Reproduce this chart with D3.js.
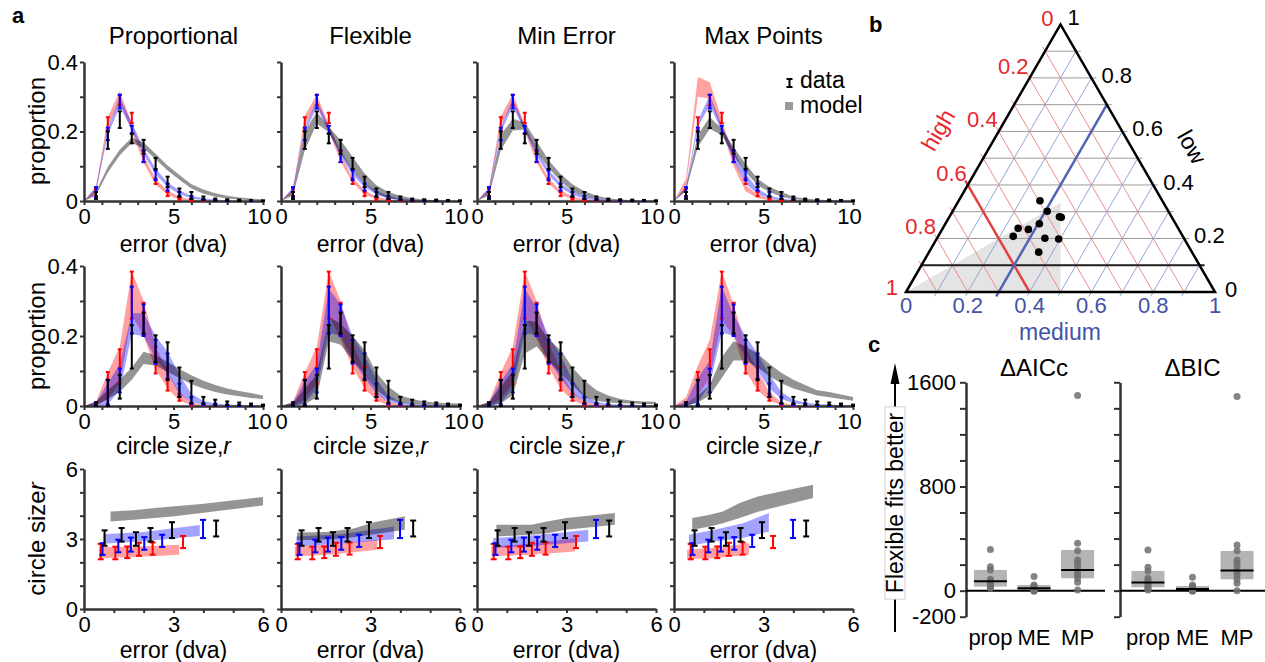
<!DOCTYPE html>
<html>
<head>
<meta charset="utf-8">
<script src="https://cdn.jsdelivr.net/npm/d3@7"></script>
<style>
body { margin: 0; background: #fff; }
svg { display: block; }
svg text { font-family: "Liberation Sans", Arial, Helvetica, sans-serif; }
</style>
</head>
<body>
<script>
// ---------- panel a data ----------
var modelNames = ["Proportional", "Flexible", "Min Error", "Max Points"];
var binCenters = [0.67, 1.33, 2, 2.67, 3.33, 4, 4.67, 5.33, 6, 6.67, 7.33, 8, 8.67, 9.33, 10];
var modelGrid = [0, 0.67, 1.33, 2, 2.67, 3.33, 4, 4.67, 5.33, 6, 6.67, 7.33, 8, 8.67, 9.33, 10];

// row 1: error histograms (data mean, sem)
var errRed = [0.025, 0.222, 0.29, 0.239, 0.128, 0.057, 0.020, 0.006, 0.002, 0.001, 0.0005, 0, 0, 0, 0];
var errRedSe = [0.01, 0.019, 0.015, 0.015, 0.016, 0.008, 0.006, 0.003, 0.002, 0.001, 0.001, 0, 0, 0, 0];
var errBlue = [0.026, 0.193, 0.286, 0.205, 0.129, 0.074, 0.040, 0.020, 0.010, 0.004, 0.002, 0.001, 0.0005, 0, 0];
var errBlueSe = [0.014, 0.018, 0.02, 0.011, 0.017, 0.014, 0.010, 0.006, 0.004, 0.002, 0.001, 0.001, 0.001, 0, 0];
var errBlack = [0.016, 0.175, 0.234, 0.18, 0.156, 0.108, 0.055, 0.024, 0.016, 0.008, 0.004, 0.003, 0.002, 0.002, 0.001];
var errBlackSe = [0.01, 0.025, 0.024, 0.014, 0.02, 0.016, 0.015, 0.012, 0.01, 0.005, 0.003, 0.002, 0.002, 0.001, 0.001];

// row 1 model bands, one list per model column
var errModelRedLo = [
  [0, 0.022, 0.214, 0.288, 0.2, 0.11, 0.047, 0.018, 0.004, 0, 0, 0, 0, 0, 0, 0],
  [0, 0.024, 0.218, 0.28, 0.2, 0.113, 0.053, 0.019, 0.005, 0.001, 0, 0, 0, 0, 0, 0],
  [0, 0.024, 0.216, 0.282, 0.2, 0.111, 0.051, 0.018, 0.005, 0.001, 0, 0, 0, 0, 0, 0],
  [0, 0.04, 0.3, 0.295, 0.205, 0.1, 0.028, 0.008, 0.002, 0, 0, 0, 0, 0, 0, 0]];
var errModelRedHi = [
  [0, 0.038, 0.242, 0.316, 0.222, 0.13, 0.063, 0.03, 0.012, 0.004, 0.002, 0.001, 0, 0, 0, 0],
  [0, 0.036, 0.246, 0.306, 0.22, 0.131, 0.067, 0.031, 0.013, 0.005, 0.002, 0.001, 0, 0, 0, 0],
  [0, 0.036, 0.244, 0.308, 0.22, 0.129, 0.065, 0.03, 0.013, 0.005, 0.002, 0.001, 0, 0, 0, 0],
  [0, 0.064, 0.357, 0.342, 0.235, 0.125, 0.045, 0.018, 0.007, 0.002, 0.001, 0, 0, 0, 0, 0]];
var errModelBlueLo = [
  [0, 0.028, 0.19, 0.272, 0.205, 0.133, 0.077, 0.04, 0.02, 0.007, 0.002, 0.001, 0, 0, 0, 0],
  [0, 0.027, 0.197, 0.27, 0.199, 0.129, 0.075, 0.04, 0.019, 0.007, 0.003, 0.001, 0, 0, 0, 0],
  [0, 0.027, 0.197, 0.273, 0.202, 0.13, 0.075, 0.039, 0.018, 0.006, 0.003, 0.001, 0, 0, 0, 0],
  [0, 0.028, 0.213, 0.275, 0.2, 0.117, 0.05, 0.02, 0.007, 0.002, 0.001, 0, 0, 0, 0, 0]];
var errModelBlueHi = [
  [0, 0.042, 0.21, 0.298, 0.226, 0.152, 0.093, 0.054, 0.03, 0.015, 0.008, 0.004, 0.002, 0.001, 0, 0],
  [0, 0.039, 0.213, 0.29, 0.215, 0.145, 0.089, 0.052, 0.029, 0.015, 0.007, 0.003, 0.002, 0.001, 0, 0],
  [0, 0.039, 0.213, 0.293, 0.218, 0.146, 0.089, 0.051, 0.028, 0.014, 0.007, 0.003, 0.002, 0.001, 0, 0],
  [0, 0.042, 0.232, 0.304, 0.218, 0.146, 0.079, 0.035, 0.016, 0.007, 0.003, 0.001, 0, 0, 0, 0]];
var errModelGrayLo = [
  [0, 0.016, 0.082, 0.132, 0.167, 0.152, 0.12, 0.088, 0.061, 0.036, 0.021, 0.012, 0.007, 0.004, 0.002, 0.001],
  [0, 0.016, 0.146, 0.223, 0.198, 0.136, 0.088, 0.05, 0.021, 0.007, 0.003, 0.001, 0, 0, 0, 0],
  [0, 0.016, 0.146, 0.203, 0.206, 0.14, 0.095, 0.057, 0.028, 0.013, 0.006, 0.003, 0.001, 0, 0, 0],
  [0, 0.03, 0.155, 0.208, 0.189, 0.131, 0.083, 0.045, 0.026, 0.012, 0.005, 0.002, 0.001, 0, 0, 0]];
var errModelGrayHi = [
  [0, 0.028, 0.098, 0.148, 0.183, 0.168, 0.136, 0.102, 0.075, 0.048, 0.033, 0.022, 0.015, 0.01, 0.007, 0.004],
  [0, 0.028, 0.2, 0.256, 0.214, 0.175, 0.127, 0.079, 0.045, 0.026, 0.015, 0.008, 0.004, 0.002, 0.001, 0.001],
  [0, 0.028, 0.19, 0.237, 0.226, 0.172, 0.117, 0.078, 0.048, 0.028, 0.015, 0.008, 0.004, 0.002, 0.001, 0.001],
  [0, 0.04, 0.19, 0.242, 0.208, 0.155, 0.107, 0.064, 0.04, 0.026, 0.012, 0.007, 0.004, 0.002, 0.001, 0]];

// row 2: circle size histograms
var sizeRed = [0.004, 0.05, 0.113, 0.317, 0.25, 0.131, 0.078, 0.025, 0.004, 0.001, 0.001, 0, 0, 0, 0];
var sizeRedSe = [0.004, 0.047, 0.049, 0.067, 0.045, 0.038, 0.034, 0.01, 0.003, 0.001, 0.001, 0, 0, 0, 0];
var sizeBlue = [0.004, 0.04, 0.073, 0.274, 0.245, 0.155, 0.114, 0.045, 0.015, 0.005, 0.004, 0.002, 0.001, 0.001, 0];
var sizeBlueSe = [0.004, 0.035, 0.034, 0.067, 0.045, 0.034, 0.036, 0.019, 0.01, 0.003, 0.003, 0.002, 0.001, 0.001, 0];
var sizeBlack = [0.006, 0.037, 0.055, 0.169, 0.237, 0.164, 0.128, 0.068, 0.04, 0.016, 0.01, 0.008, 0.006, 0.004, 0.002];
var sizeBlackSe = [0.005, 0.037, 0.034, 0.062, 0.03, 0.038, 0.054, 0.042, 0.032, 0.01, 0.008, 0.005, 0.004, 0.003, 0.002];

var sizeModelRedLo = [
  [0, 0, 0.02, 0.065, 0.26, 0.2, 0.105, 0.05, 0.015, 0.003, 0.001, 0, 0, 0, 0, 0],
  [0, 0, 0.02, 0.065, 0.26, 0.19, 0.11, 0.05, 0.015, 0.003, 0.001, 0, 0, 0, 0, 0],
  [0, 0, 0.02, 0.065, 0.26, 0.19, 0.11, 0.05, 0.015, 0.003, 0.001, 0, 0, 0, 0, 0],
  [0, 0, 0.03, 0.08, 0.245, 0.2, 0.1, 0.045, 0.015, 0.003, 0.001, 0, 0, 0, 0, 0]];
var sizeModelRedHi = [
  [0, 0.012, 0.095, 0.17, 0.385, 0.3, 0.17, 0.1, 0.04, 0.01, 0.003, 0.001, 0, 0, 0, 0],
  [0, 0.012, 0.095, 0.17, 0.385, 0.3, 0.18, 0.1, 0.04, 0.012, 0.004, 0.001, 0, 0, 0, 0],
  [0, 0.012, 0.095, 0.17, 0.385, 0.3, 0.18, 0.1, 0.04, 0.012, 0.004, 0.001, 0, 0, 0, 0],
  [0, 0.025, 0.115, 0.19, 0.385, 0.29, 0.17, 0.1, 0.04, 0.01, 0.003, 0.001, 0, 0, 0, 0]];
var sizeModelBlueLo = [
  [0, 0, 0.005, 0.045, 0.205, 0.2, 0.135, 0.093, 0.035, 0.011, 0.004, 0.002, 0.001, 0, 0, 0],
  [0, 0, 0.008, 0.05, 0.21, 0.2, 0.13, 0.08, 0.035, 0.012, 0.005, 0.002, 0.001, 0, 0, 0],
  [0, 0, 0.008, 0.05, 0.21, 0.2, 0.13, 0.08, 0.035, 0.012, 0.005, 0.002, 0.001, 0, 0, 0],
  [0, 0, 0.01, 0.06, 0.21, 0.2, 0.14, 0.1, 0.05, 0.02, 0.008, 0.004, 0.002, 0.001, 0, 0]];
var sizeModelBlueHi = [
  [0, 0.01, 0.065, 0.12, 0.265, 0.265, 0.2, 0.155, 0.09, 0.035, 0.014, 0.007, 0.004, 0.003, 0.002, 0.002],
  [0, 0.01, 0.07, 0.12, 0.335, 0.29, 0.2, 0.145, 0.075, 0.03, 0.012, 0.006, 0.004, 0.003, 0.002, 0.002],
  [0, 0.01, 0.07, 0.12, 0.335, 0.28, 0.2, 0.145, 0.075, 0.03, 0.012, 0.006, 0.004, 0.003, 0.002, 0.002],
  [0, 0.012, 0.08, 0.13, 0.34, 0.26, 0.2, 0.15, 0.09, 0.04, 0.018, 0.01, 0.006, 0.004, 0.003, 0.002]];
var sizeModelGrayLo = [
  [0, 0.003, 0.02, 0.04, 0.075, 0.12, 0.116, 0.097, 0.08, 0.062, 0.05, 0.04, 0.033, 0.028, 0.023, 0.02],
  [0, 0, 0.005, 0.025, 0.185, 0.175, 0.13, 0.093, 0.045, 0.02, 0.01, 0.006, 0.004, 0.003, 0.002, 0.002],
  [0, 0, 0.008, 0.03, 0.15, 0.17, 0.13, 0.093, 0.06, 0.026, 0.015, 0.01, 0.008, 0.007, 0.006, 0.005],
  [0, 0, 0.01, 0.03, 0.08, 0.13, 0.13, 0.11, 0.085, 0.065, 0.05, 0.04, 0.03, 0.025, 0.02, 0.015]];
var sizeModelGrayHi = [
  [0, 0.012, 0.045, 0.075, 0.11, 0.155, 0.145, 0.126, 0.106, 0.088, 0.072, 0.06, 0.05, 0.043, 0.037, 0.03],
  [0, 0.008, 0.05, 0.09, 0.255, 0.235, 0.2, 0.16, 0.095, 0.055, 0.03, 0.02, 0.013, 0.01, 0.008, 0.007],
  [0, 0.01, 0.055, 0.1, 0.245, 0.24, 0.19, 0.16, 0.11, 0.073, 0.045, 0.03, 0.02, 0.015, 0.013, 0.012],
  [0, 0.005, 0.03, 0.06, 0.14, 0.185, 0.17, 0.15, 0.12, 0.095, 0.075, 0.06, 0.045, 0.04, 0.033, 0.026]];

// row 3: circle size vs error
var csRedX = [0.56, 1.05, 1.45, 1.84, 2.3, 3.32];
var csRedY = [2.46, 2.4, 2.43, 2.56, 2.59, 2.87];
var csRedSe = [0.33, 0.27, 0.25, 0.28, 0.26, 0.26];
var csBlueX = [0.62, 1.15, 1.57, 2.02, 2.62, 3.99];
var csBlueY = [2.57, 2.7, 2.76, 2.81, 2.92, 3.43];
var csBlueSe = [0.25, 0.27, 0.3, 0.27, 0.26, 0.39];
var csBlackX = [0.69, 1.26, 1.74, 2.23, 2.95, 4.43];
var csBlackY = [3.04, 3.18, 3.0, 3.18, 3.38, 3.45];
var csBlackSe = [0.33, 0.29, 0.29, 0.29, 0.34, 0.34];

var csModelRedX = [[0.51, 1.8, 3.19], [0.46, 1.8, 3.23], [0.48, 1.8, 3.28], [0.44, 1.5, 2.51]];
var csModelRedLo = [[2.18, 2.23, 2.32], [2.25, 2.35, 2.54], [2.25, 2.33, 2.46], [2.13, 2.2, 2.32]];
var csModelRedHi = [[2.65, 2.68, 2.75], [2.68, 2.78, 2.97], [2.68, 2.8, 3.04], [2.54, 2.65, 2.82]];
var csModelBlueX = [[0.65, 2.0, 3.88], [0.52, 2.0, 3.79], [0.54, 2.0, 3.73], [0.5, 1.36, 2.31, 3.18]];
var csModelBlueLo = [[2.8, 2.9, 3.13], [2.68, 2.8, 2.99], [2.61, 2.72, 2.89], [2.71, 2.89, 3.04, 3.32]];
var csModelBlueHi = [[3.2, 3.3, 3.6], [3.11, 3.2, 3.54], [3.04, 3.17, 3.4], [3.18, 3.4, 3.68, 4.11]];
var csModelGrayX = [[0.89, 1.67, 2.37, 3.04, 3.94, 6.0], [0.54, 1.55, 2.44, 3.12, 4.15],
                    [0.65, 1.83, 2.35, 3.0, 4.62], [0.61, 1.2, 1.64, 2.2, 2.84, 4.66]];
var csModelGrayLo = [[3.75, 3.83, 3.9, 3.97, 4.11, 4.44], [2.95, 2.98, 3.08, 3.2, 3.4],
                     [3.11, 3.18, 3.25, 3.4, 3.61], [3.4, 3.54, 3.68, 3.9, 4.18, 4.76]];
var csModelGrayHi = [[4.18, 4.23, 4.33, 4.4, 4.5, 4.8], [3.28, 3.3, 3.45, 3.72, 3.97],
                     [3.61, 3.61, 3.75, 3.9, 4.11], [3.9, 4.04, 4.18, 4.54, 4.83, 5.33]];

// ---------- panel b data (high, medium, low) ----------
var subjHigh = [0.396, 0.392, 0.363, 0.358, 0.441, 0.518, 0.487, 0.549, 0.450, 0.407, 0.496];
var subjMed  = [0.263, 0.306, 0.356, 0.363, 0.304, 0.244, 0.279, 0.243, 0.349, 0.395, 0.355];
var subjLow  = [0.341, 0.302, 0.281, 0.279, 0.255, 0.238, 0.234, 0.208, 0.201, 0.198, 0.149];
var shadeHigh = [1, 0.5, 0.3333];
var shadeMed  = [0, 0.5, 0.3333];
var shadeLow  = [0, 0, 0.3334];
var ternGrid = [0.1, 0.2, 0.3, 0.4, 0.5, 0.6, 0.7, 0.8, 0.9];
var ternLabels = [0, 0.2, 0.4, 0.6, 0.8, 1];

// ---------- panel c data ----------
var cCats = ["prop", "ME", "MP"];
var aicPoints = [[317, 184, 159, 87, 77, 61, 51, 44, 31, 26, 18],
                 [108, 44, 31, 26, 18, 13, 10, 5, 3, 0, -5],
                 [1498, 364, 307, 236, 210, 179, 146, 120, 95, 64, 5]];
var aicBoxLo = [31, 0, 95], aicBoxHi = [159, 44, 312], aicMid = [72, 18, 159];
var bicPoints = [[312, 179, 151, 95, 82, 64, 51, 36, 26, 13, 5],
                 [102, 44, 31, 22, 15, 12, 8, 5, 3, 0, -5],
                 [1490, 351, 307, 236, 210, 179, 146, 120, 87, 56, 0]];
var bicBoxLo = [26, 0, 87], bicBoxHi = [151, 36, 305], bicMid = [62, 13, 154];

// ---------- drawing ----------
var svg = d3.select("body").append("svg").attr("width", 1265).attr("height", 662);
var FS = 22, LS = 24, XS = 23;   // tick labels, titles, x labels
var colLeft = [84, 281, 477, 674], colW = 179;
var rowTop = [62, 266, 469], rowBottom = [201, 406, 609];
var bandFill = ["#ff0000", "#0000ff", "#000000"], bandOpacity = [0.37, 0.36, 0.42];
var barColor = ["#ff0000", "#0000ff", "#000000"];

function styleAxis(g) {
  g.attr("font-size", FS).attr("font-family", null);
  g.select(".domain").attr("stroke", "#333").attr("stroke-width", 2.5);
  g.selectAll(".tick line").attr("stroke", "#333").attr("stroke-width", 2);
  g.selectAll(".tick text").attr("fill", "#000");
}

function errorBars(g, x, y, xs, m, se, color, cap) {
  var gg = g.append("g").attr("stroke", color).attr("stroke-width", 2);
  xs.forEach(function (xv, i) {
    var y1 = y(m[i] - se[i]), y2 = y(m[i] + se[i]), px = x(xv);
    gg.append("line").attr("x1", px).attr("x2", px).attr("y1", y1).attr("y2", y2);
    gg.append("line").attr("x1", px - cap).attr("x2", px + cap).attr("y1", y1).attr("y2", y1);
    gg.append("line").attr("x1", px - cap).attr("x2", px + cap).attr("y1", y2).attr("y2", y2);
  });
}

function band(g, x, y, xs, lo, hi, k) {
  var area = d3.area()
    .x(function (d, i) { return x(xs[i]); })
    .y0(function (d, i) { return y(lo[i]); })
    .y1(function (d, i) { return y(hi[i]); });
  g.append("path").datum(xs).attr("d", area)
    .attr("fill", bandFill[k]).attr("fill-opacity", bandOpacity[k]);
}

var histRows = [
  { lo: [errModelRedLo, errModelBlueLo, errModelGrayLo], hi: [errModelRedHi, errModelBlueHi, errModelGrayHi],
    m: [errRed, errBlue, errBlack], se: [errRedSe, errBlueSe, errBlackSe] },
  { lo: [sizeModelRedLo, sizeModelBlueLo, sizeModelGrayLo], hi: [sizeModelRedHi, sizeModelBlueHi, sizeModelGrayHi],
    m: [sizeRed, sizeBlue, sizeBlack], se: [sizeRedSe, sizeBlueSe, sizeBlackSe] }
];

colLeft.forEach(function (x0, c) {
  svg.append("text").attr("x", x0 + colW / 2).attr("y", 44).attr("text-anchor", "middle")
    .attr("font-size", LS).text(modelNames[c]);

  // histogram rows
  [0, 1].forEach(function (r) {
    var x = d3.scaleLinear().domain([0, 10]).range([x0, x0 + colW]);
    var y = d3.scaleLinear().domain([0, 0.4]).range([rowBottom[r], rowTop[r]]).clamp(true);
    var g = svg.append("g");
    var hr = histRows[r];
    for (var k = 0; k < 3; k++) band(g, x, y, modelGrid, hr.lo[k][c], hr.hi[k][c], k);

    var ax = g.append("g").attr("transform", "translate(0," + rowBottom[r] + ")")
      .call(d3.axisBottom(x).tickValues([0, 1, 2, 3, 4, 5, 6, 7, 8, 9, 10]).tickSize(4).tickSizeOuter(0).tickPadding(3)
        .tickFormat(function (d) { return (d % 5 === 0) ? String(d) : ""; }))
      .call(styleAxis);
    ax.selectAll(".tick text").filter(function (d) { return d === 10; }).attr("dx", -4);
    g.append("g").attr("transform", "translate(" + x0 + ",0)")
      .call(d3.axisLeft(y).tickValues([0, 0.1, 0.2, 0.3, 0.4]).tickSize(4).tickSizeOuter(0).tickPadding(2)
        .tickFormat(function (d) { return (c === 0 && [0, 0.2, 0.4].indexOf(d) >= 0) ? String(d) : ""; }))
      .call(styleAxis);

    for (var k2 = 0; k2 < 3; k2++) errorBars(g, x, y, binCenters, hr.m[k2], hr.se[k2], barColor[k2], 2);
  });

  // row 3
  var x3 = d3.scaleLinear().domain([0, 6]).range([x0, x0 + colW]);
  var y3 = d3.scaleLinear().domain([0, 6]).range([rowBottom[2], rowTop[2]]);
  var g3 = svg.append("g");
  band(g3, x3, y3, csModelRedX[c], csModelRedLo[c], csModelRedHi[c], 0);
  band(g3, x3, y3, csModelBlueX[c], csModelBlueLo[c], csModelBlueHi[c], 1);
  band(g3, x3, y3, csModelGrayX[c], csModelGrayLo[c], csModelGrayHi[c], 2);
  g3.append("g").attr("transform", "translate(0," + rowBottom[2] + ")")
    .call(d3.axisBottom(x3).tickValues([0, 1, 2, 3, 4, 5, 6]).tickSize(4).tickSizeOuter(0).tickPadding(3)
      .tickFormat(function (d) { return (d % 3 === 0) ? String(d) : ""; }))
    .call(styleAxis);
  g3.append("g").attr("transform", "translate(" + x0 + ",0)")
    .call(d3.axisLeft(y3).tickValues([0, 1, 2, 3, 4, 5, 6]).tickSize(4).tickSizeOuter(0).tickPadding(2)
      .tickFormat(function (d) { return (c === 0 && d % 3 === 0) ? String(d) : ""; }))
    .call(styleAxis);
  errorBars(g3, x3, y3, csRedX, csRedY, csRedSe, barColor[0], 3);
  errorBars(g3, x3, y3, csBlueX, csBlueY, csBlueSe, barColor[1], 3);
  errorBars(g3, x3, y3, csBlackX, csBlackY, csBlackSe, barColor[2], 3);

  // x labels
  svg.append("text").attr("x", x0 + colW / 2).attr("y", 252).attr("text-anchor", "middle")
    .attr("font-size", XS).text("error (dva)");
  var t2 = svg.append("text").attr("x", x0 + colW / 2).attr("y", 454).attr("text-anchor", "middle")
    .attr("font-size", XS).text("circle size,");
  t2.append("tspan").attr("font-style", "italic").text("r");
  svg.append("text").attr("x", x0 + colW / 2).attr("y", 657.5).attr("text-anchor", "middle")
    .attr("font-size", XS).text("error (dva)");
});

// y labels
[[131, "proportion"], [336, "proportion"]].forEach(function (d) {
  svg.append("text").attr("transform", "translate(45," + d[0] + ") rotate(-90)")
    .attr("text-anchor", "middle").attr("font-size", LS).text(d[1]);
});
var yl3 = svg.append("text").attr("transform", "translate(45,539) rotate(-90)")
  .attr("text-anchor", "middle").attr("font-size", LS).text("circle size");
yl3.append("tspan").attr("font-style", "italic").text("r");

// legend
var lg = svg.append("g").attr("stroke", "#000").attr("stroke-width", 2);
lg.append("line").attr("x1", 789.5).attr("x2", 789.5).attr("y1", 79).attr("y2", 87);
lg.append("line").attr("x1", 786.5).attr("x2", 792.5).attr("y1", 79).attr("y2", 79);
lg.append("line").attr("x1", 786.5).attr("x2", 792.5).attr("y1", 87).attr("y2", 87);
svg.append("text").attr("x", 800).attr("y", 88).attr("font-size", 23).text("data");
svg.append("rect").attr("x", 785).attr("y", 102).attr("width", 8).attr("height", 8).attr("fill", "#999");
svg.append("text").attr("x", 800).attr("y", 113).attr("font-size", 23).text("model");

// panel letters
[["a", 12, 23], ["b", 869, 32], ["c", 868, 352]].forEach(function (d) {
  svg.append("text").attr("x", d[1]).attr("y", d[2]).attr("font-size", 22).attr("font-weight", "bold").text(d[0]);
});

// ---------- panel b: ternary ----------
var triX0 = 906, triY0 = 292, triSide = 309;
var tx = d3.scaleLinear().domain([0, 1]).range([triX0, triX0 + triSide]);
var ty = d3.scaleLinear().domain([0, 1]).range([triY0, triY0 - triSide * Math.sqrt(3) / 2]);
function tp(h, m, l) { return [tx(m + l / 2), ty(l)]; }
var gb = svg.append("g");
var redC = "#e8262d", blueC = "#4152a8";

gb.append("path").datum(shadeHigh.map(function (h, i) { return tp(h, shadeMed[i], shadeLow[i]); }))
  .attr("d", function (d) { return d3.line()(d) + "Z"; }).attr("fill", "#e4e4e4");

function gridLine(p1, p2, color, w) {
  var dx = p1[0] - p2[0], dy = p1[1] - p2[1], len = Math.sqrt(dx * dx + dy * dy);
  var e = [p1[0] + dx / len * 5, p1[1] + dy / len * 5];
  gb.append("line").attr("x1", e[0]).attr("y1", e[1]).attr("x2", p2[0]).attr("y2", p2[1])
    .attr("stroke", color).attr("stroke-width", w);
}
ternGrid.forEach(function (v) {
  gridLine(tp(0, 1 - v, v), tp(1 - v, 0, v), "#9a9a9a", 1);
  gridLine(tp(v, 0, 1 - v), tp(v, 1 - v, 0), "#ee8c8c", 1);
  gridLine(tp(1 - v, v, 0), tp(0, v, 1 - v), "#98a2dc", 1);
});
gridLine(tp(0, 0.9, 0.1), tp(0.9, 0, 0.1), "#222", 2);
gridLine(tp(0.6, 0, 0.4), tp(0.6, 0.4, 0), "#e54040", 2.5);
gridLine(tp(0.7, 0.3, 0), tp(0, 0.3, 0.7), "#5264b4", 2.5);

gb.append("path").datum([tp(1, 0, 0), tp(0, 1, 0), tp(0, 0, 1)])
  .attr("d", function (d) { return d3.line()(d) + "Z"; })
  .attr("fill", "none").attr("stroke", "#000").attr("stroke-width", 2.5).attr("stroke-linejoin", "miter");

subjHigh.forEach(function (h, i) {
  var p = tp(h, subjMed[i], subjLow[i]);
  gb.append("circle").attr("cx", p[0]).attr("cy", p[1]).attr("r", 3.8).attr("fill", "#000");
});

ternLabels.forEach(function (v) {
  var ph = tp(v, 0, 1 - v);
  var oh = v === 0 ? [-7, 2] : (v === 1 ? [-8, 3] : [-1, -4]);
  gb.append("text").attr("x", ph[0] + oh[0]).attr("y", ph[1] + oh[1]).attr("text-anchor", "end")
    .attr("font-size", FS).attr("fill", redC).text(String(v));
  var pl = tp(0, 1 - v, v);
  var ol = v === 1 ? [7, 1] : [10, 5];
  gb.append("text").attr("x", pl[0] + ol[0]).attr("y", pl[1] + ol[1])
    .attr("font-size", FS).attr("fill", "#000").text(String(v));
  var pm = tp(1 - v, v, 0);
  gb.append("text").attr("x", pm[0]).attr("y", pm[1] + 21).attr("text-anchor", "middle")
    .attr("font-size", FS).attr("fill", blueC).text(String(v));
});
gb.append("text").attr("x", 1060).attr("y", 340).attr("text-anchor", "middle")
  .attr("font-size", 23).attr("fill", blueC).text("medium");
gb.append("text").attr("transform", "translate(938,130) rotate(-60)").attr("dy", "0.35em")
  .attr("text-anchor", "middle").attr("font-size", 23).attr("fill", redC).text("high");
gb.append("text").attr("transform", "translate(1192,147) rotate(60)").attr("dy", "0.35em")
  .attr("text-anchor", "middle").attr("font-size", 23).attr("fill", "#000").text("low");

// ---------- panel c ----------
var cy = d3.scaleLinear().domain([-200, 1600]).range([616.7, 382.3]);
var cPanels = [
  { title: "\u0394AICc", axisX: 966, range: [966, 1102], pts: aicPoints, lo: aicBoxLo, hi: aicBoxHi, mid: aicMid, labels: true },
  { title: "\u0394BIC", axisX: 1120, range: [1123, 1262], pts: bicPoints, lo: bicBoxLo, hi: bicBoxHi, mid: bicMid, labels: false }
];
cPanels.forEach(function (p) {
  var x = d3.scalePoint().domain(cCats).range(p.range).padding(0.56);
  var g = svg.append("g");
  g.append("g").attr("transform", "translate(" + p.axisX + ",0)")
    .call(d3.axisLeft(cy).tickValues([-200, 0, 200, 400, 600, 800, 1000, 1200, 1400, 1600])
      .tickSize(6).tickSizeOuter(0).tickPadding(4)
      .tickFormat(function (d) { return (p.labels && [-200, 0, 800, 1600].indexOf(d) >= 0) ? String(d) : ""; }))
    .call(styleAxis);
  cCats.forEach(function (cat, i) {
    g.append("rect").attr("x", x(cat) - 16.5).attr("width", 33)
      .attr("y", cy(p.hi[i])).attr("height", cy(p.lo[i]) - cy(p.hi[i]))
      .attr("fill", "#b4b4b4");
  });
  g.append("line").attr("x1", p.axisX).attr("x2", p.range[1] + 3).attr("y1", cy(0)).attr("y2", cy(0))
    .attr("stroke", "#000").attr("stroke-width", 2);
  cCats.forEach(function (cat, i) {
    p.pts[i].forEach(function (v) {
      g.append("circle").attr("cx", x(cat)).attr("cy", cy(v)).attr("r", 3.5)
        .attr("fill", "#6e6e6e").attr("fill-opacity", 0.85);
    });
    g.append("line").attr("x1", x(cat) - 16.5).attr("x2", x(cat) + 16.5)
      .attr("y1", cy(p.mid[i])).attr("y2", cy(p.mid[i])).attr("stroke", "#000").attr("stroke-width", 2);
    g.append("text").attr("x", x(cat)).attr("y", 645).attr("text-anchor", "middle")
      .attr("font-size", FS).text(cat);
  });
  g.append("text").attr("x", (p.range[0] + p.range[1]) / 2).attr("y", 376).attr("text-anchor", "middle")
    .attr("font-size", LS).text(p.title);
});

// "Flexible fits better" arrow with boxed label
svg.append("line").attr("x1", 895).attr("x2", 895).attr("y1", 632).attr("y2", 380)
  .attr("stroke", "#000").attr("stroke-width", 2);
svg.append("path").attr("d", "M895,363L890.5,384L899.5,384Z").attr("fill", "#000");
var fg = svg.append("g");
var fbox = fg.append("rect");
var ft = fg.append("text").attr("transform", "translate(903,503) rotate(-90)")
  .attr("text-anchor", "middle").attr("font-size", 23).text("Flexible fits better");
var fl = ft.node().getComputedTextLength();
fbox.attr("x", 885).attr("y", 503 - fl / 2 - 6).attr("width", 20).attr("height", fl + 12)
  .attr("fill", "#fff").attr("stroke", "#d0d0d0").attr("stroke-width", 1);
</script>
</body>
</html>
